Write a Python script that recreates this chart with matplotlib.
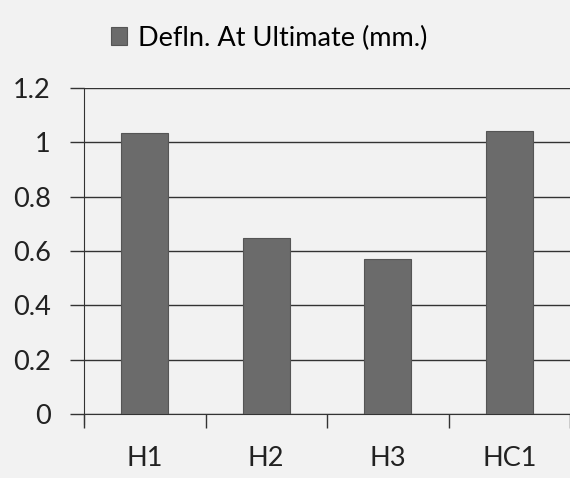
import matplotlib.pyplot as plt
import numpy as np

# valeurs
categories = ["H1", "H2", "H3", "HC1"]
defln = [1.035, 0.648, 0.572, 1.04]
yticks = [0, 0.2, 0.4, 0.6, 0.8, 1, 1.2]
ytick_labels = ["0", "0.2", "0.4", "0.6", "0.8", "1", "1.2"]

plt.rcParams['font.family'] = ['Lato', 'DejaVu Sans']

fig = plt.figure(figsize=(5.7, 4.78), dpi=100, facecolor='#f2f2f2')
ax = fig.add_axes([84/570, 64/478, 1 - 84/570, 326/478])
ax.set_facecolor('#f2f2f2')

x = np.arange(len(categories))
bars = ax.bar(x, defln, width=0.39, color='#6b6b6b', edgecolor='#555555',
              linewidth=0.8, zorder=3, label="Defln. At Ultimate (mm.)")

ax.set_ylim(0, 1.2)
ax.set_xlim(-0.5, 3.45)
ax.set_yticks(yticks)
ax.set_yticklabels(ytick_labels)
ax.yaxis.grid(True, color='#333333', linewidth=1.0)
ax.set_axisbelow(True)

# ticks x entre les categories
ax.set_xticks(np.arange(len(categories) + 1) - 0.5)
ax.set_xticklabels([])
ax.set_xticks(x, minor=True)
ax.set_xticklabels(categories, minor=True)
ax.tick_params(axis='x', which='major', length=10, width=1, color='#333333', direction='out')
ax.tick_params(axis='x', which='minor', length=0, pad=23, labelsize=19.5, colors='#222222')
ax.tick_params(axis='y', length=10, width=1, color='#333333', labelsize=19.5, colors='#222222', pad=14)

for s in ['top', 'right']:
    ax.spines[s].set_visible(False)
ax.spines['left'].set_color('#333333')
ax.spines['bottom'].set_color('#333333')
ax.spines['left'].set_bounds(-0.035, 1.2)

fig.legend(handles=[bars], labels=["Defln. At Ultimate (mm.)"], loc='center',
           bbox_to_anchor=(269/570, 1 - 38/478), frameon=False, fontsize=19.5,
           handlelength=0.6, handleheight=0.6, handletextpad=0.4)

plt.savefig('out.png', dpi=100, facecolor=fig.get_facecolor())
